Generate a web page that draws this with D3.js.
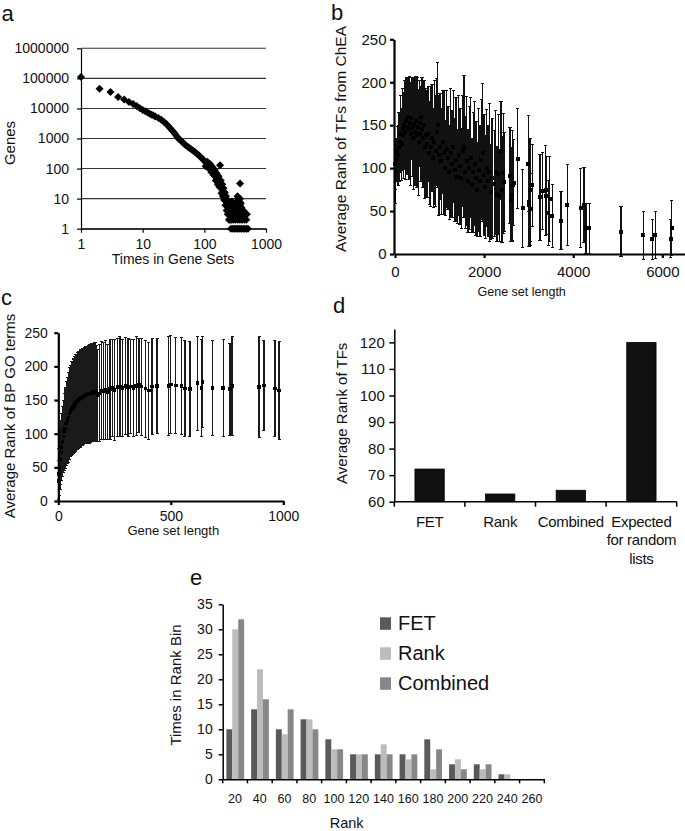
<!DOCTYPE html>
<html>
<head>
<meta charset="utf-8">
<script src="https://d3js.org/d3.v7.min.js"></script>
<style>
  body { margin: 0; background: #fff; }
  svg { display: block; font-family: "Liberation Sans", Arial, sans-serif; }
</style>
</head>
<body>
<div id="fig"></div>
<script>
// ---- panel a: genes vs times in gene sets (log-log scatter) ----
const aTimes = [
  1, 2, 3, 4, 5, 6, 7, 8, 9, 10, 11, 12, 13, 14, 15, 16, 18, 20, 22, 24, 26, 28, 30, 32, 34, 36, 38, 41, 44, 47,
  50, 54, 58, 62, 66, 71, 76, 81, 86, 92, 98, 104, 110, 117, 124, 131, 139, 147, 155, 163, 171, 180, 189, 198, 207, 217, 227, 237, 247,
  105, 112, 118, 125, 130, 136, 142, 148, 153, 158, 165, 170, 175, 180, 185, 190, 195, 200, 205, 210, 215, 220, 225, 230, 235, 240, 245, 250, 255, 260, 265, 270, 275, 280, 285,
  270, 290, 310, 330, 350, 375, 400, 425, 450, 480, 510,
  260, 280, 300, 320, 345, 370, 395, 420, 450, 480,
  290, 315, 340, 365, 390, 420, 455, 490,
  300, 330, 360, 390, 430,
  310, 340, 370, 400,
  320, 350, 380,
  330, 360, 390,
  340, 370,
  350, 380,
  345, 380
];
const aGenes = [
  110000, 45000, 35000, 24000, 20000, 16500, 14000, 12000, 10200, 8800, 8000, 7300, 6700, 6200, 5800, 5400, 4800, 4200, 3600, 3100, 2600, 2200, 1850, 1600, 1350, 1150, 1000, 870, 760, 670,
  600, 530, 470, 430, 390, 350, 310, 275, 245, 215, 190, 165, 145, 125, 108, 92, 78, 66, 55, 45, 36, 29, 23, 18, 14, 11, 8, 6, 5,
  120, 170, 100, 140, 75, 110, 60, 90, 40, 70, 30, 55, 25, 130, 40, 15, 30, 12, 22, 9, 16, 6, 12, 4, 9, 3, 7, 2, 6, 3, 5, 2, 4, 8, 3,
  1, 1, 1, 1, 1, 1, 1, 1, 1, 1, 1,
  2, 2, 2, 2, 2, 2, 2, 2, 2, 2,
  3, 3, 3, 3, 3, 3, 3, 3,
  4, 4, 4, 4, 4,
  5, 5, 5, 5,
  6, 6, 6,
  7, 7, 7,
  8, 8,
  10, 10,
  12, 32
];
const aXTicks = [1, 10, 100, 1000];
const aYTicks = [1, 10, 100, 1000, 10000, 100000, 1000000];

// ---- panel b: average rank of TFs from ChEA vs gene set length ----
const bLen = [
  10, 15, 30, 50, 70, 90, 110, 130, 150, 170, 190, 210, 230, 250, 270, 290, 310, 330, 350, 370, 390, 410, 430, 450, 470, 490, 510, 530, 550, 570, 590, 610, 630, 650, 670, 690,
  720, 745, 770, 800, 830, 860, 885, 910, 935, 958, 985, 1010, 1040, 1070, 1100, 1130, 1160, 1190, 1220, 1250, 1280, 1310, 1340, 1370, 1400, 1430, 1460, 1490, 1520, 1549,
  1580, 1610, 1640, 1670, 1700, 1730, 1760, 1790, 1820, 1850, 1880, 1910, 1940, 1968, 2000, 2030, 2060, 2090, 2120, 2150, 2180,
  2230, 2260, 2290, 2320, 2340, 2379, 2400, 2432, 2447, 2581, 2597, 2630, 2641, 2660, 2753, 2866, 2993, 3008, 3015, 3030, 3045, 3082,
  3255, 3315, 3380, 3400, 3442, 3472, 3532, 3726, 3868, 4168, 4243, 4287, 4362, 5073, 5574, 5776, 5843, 6189, 6210
];
const bMean = [
  105, 95, 110, 120, 115, 125, 130, 140, 128, 145, 138, 150, 142, 155, 148, 160, 145, 152, 140, 158, 147, 135, 150, 142, 155, 138, 148, 130, 152, 140, 160, 145, 135, 150, 125, 138,
  128, 140, 118, 125, 135, 112, 130, 120, 142, 150, 115, 125, 108, 130, 118, 100, 122, 112, 95, 118, 105, 125, 98, 110, 90, 115, 102, 88, 120, 125,
  95, 108, 85, 100, 112, 80, 95, 105, 88, 75, 98, 85, 110, 118, 92, 78, 100, 85, 95, 72, 88,
  82, 95, 70, 93, 67, 120, 75, 94, 84, 91, 63, 69, 80, 83, 111, 53, 105, 57, 60, 74, 52, 80,
  66, 73, 74, 68, 48, 64, 44, 39, 57, 53, 57, 30, 30, 26, 22, 17, 22, 18, 30
];
const bSd = [
  30, 36, 25, 28, 35, 40, 35, 45, 42, 48, 50, 52, 55, 50, 56, 45, 58, 55, 60, 48, 57, 60, 55, 62, 52, 60, 58, 62, 50, 55, 45, 60, 58, 52, 60, 55,
  62, 55, 60, 70, 62, 58, 72, 65, 62, 73, 70, 62, 62, 60, 72, 55, 68, 60, 55, 75, 62, 65, 60, 72, 55, 70, 68, 58, 65, 83,
  65, 75, 60, 72, 70, 55, 70, 72, 66, 55, 72, 65, 70, 80, 70, 60, 68, 65, 80, 55, 70,
  62, 72, 55, 70, 53, 57, 62, 70, 58, 56, 48, 55, 64, 50, 58, 45, 56, 48, 50, 60, 42, 48,
  50, 45, 52, 45, 38, 50, 37, 34, 47, 46, 44, 29, 29, 29, 28, 23, 27, 22, 32
];
const bXTicks = [0, 2000, 4000, 6000];
const bYTicks = [0, 50, 100, 150, 200, 250];

// ---- panel c: average rank of BP GO terms vs gene set length ----
const cLen = [
  1, 3, 5, 8, 11, 14, 18, 22, 26, 30, 35, 40, 45, 50, 55, 60, 63, 66, 69, 72, 75, 78, 81, 84, 87, 90, 94, 97, 100, 104, 107, 111, 114,
  118, 121, 125, 129, 133, 137, 141, 145, 149, 153, 157, 161, 165, 169,
  174, 183, 192, 201, 210, 220, 230, 240, 250, 262, 274, 286, 298, 310, 322, 334, 346, 358, 370,
  388, 402, 417, 439, 489, 500, 522, 548, 563, 585, 618, 637, 641, 686, 733, 763, 772, 892, 914, 963, 981
];
const cMean = [
  30, 40, 50, 62, 72, 80, 88, 96, 103, 108, 115, 120, 124, 130, 134, 137, 138, 140, 141, 143, 145, 146, 147, 148, 149, 150, 151, 152, 153, 154, 154, 155, 156,
  157, 157, 158, 158, 159, 159, 160, 160, 161, 161, 162, 162, 163, 160,
  157, 160, 164, 163, 165, 162, 166, 168, 165, 169, 170, 168, 171, 169, 170, 168, 171, 172, 170,
  167, 164, 170, 171, 171, 173, 171.5, 171, 167, 166.5, 175, 168, 177, 168, 168, 166, 171, 169.5, 171.5, 167, 164.5
];
const cSd = [
  30, 38, 42, 45, 48, 50, 52, 54, 57, 60, 63, 64, 67, 68, 68, 70, 69, 70, 71, 71, 72, 72, 71, 72, 72, 72, 71, 72, 72, 71, 72, 71, 71,
  71, 72, 72, 71, 72, 73, 73, 72, 73, 72, 72, 73, 73, 71,
  68, 72, 73, 72, 73, 70, 74, 72, 75, 73, 74, 72, 72, 73, 70, 72, 73, 70, 72,
  72, 72, 71, 70, 73, 73, 71, 72, 71, 71, 70, 72, 68, 70, 72, 68, 73, 75, 67, 71, 73
];
const cXTicks = [0, 500, 1000];
const cYTicks = [0, 50, 100, 150, 200, 250];

// ---- panel d: average rank of TFs per method ----
const dCategories = [['FET'], ['Rank'], ['Combined'], ['Expected', 'for random', 'lists']];
const dValues = [72.3, 62.9, 64.3, 120];
const dYTicks = [60, 70, 80, 90, 100, 110, 120];

// ---- panel e: times in rank bin ----
const eBins = ['20', '40', '60', '80', '100', '120', '140', '160', '180', '200', '220', '240', '260'];
const eSeries = ['FET', 'Rank', 'Combined'];
const eFET = [10, 14, 10, 12, 8, 5, 5, 5, 8, 3, 3, 1, 0];
const eRank = [30, 22, 9, 12, 6, 5, 7, 4, 2, 4, 2, 1, 0];
const eCombined = [32, 16, 14, 10, 6, 5, 5, 5, 6, 2, 3, 0, 0];
const eColors = ['#5a5a5a', '#bcbcbc', '#878787'];
const eYTicks = [0, 5, 10, 15, 20, 25, 30, 35];

const svg = d3.select('#fig').append('svg')
  .attr('width', 685)
  .attr('height', 831);

// helpers
function panelLabel(t, x, y) {
  svg.append('text').attr('x', x).attr('y', y).style('font-size', '22px').attr('fill', '#111').text(t);
}
function yTitle(t, x, y, size) {
  svg.append('text')
    .attr('transform', `translate(${x},${y}) rotate(-90)`)
    .attr('text-anchor', 'middle')
    .style('font-size', size + 'px')
    .attr('fill', '#111')
    .text(t);
}
function xTitle(t, x, y, size) {
  svg.append('text').attr('x', x).attr('y', y)
    .attr('text-anchor', 'middle')
    .style('font-size', size + 'px')
    .attr('fill', '#111')
    .text(t);
}
function styleAxis(g, lw, fs) {
  g.attr('font-family', null).attr('font-size', null);
  g.select('.domain').attr('stroke', '#000').attr('stroke-width', lw);
  g.selectAll('.tick line').attr('stroke', '#000').attr('stroke-width', lw);
  g.selectAll('.tick text').style('font-size', fs + 'px').attr('fill', '#111');
}
// vertical error bars (mean +/- sd) with caps and square markers
function errorBars(xs, ys, lens, means, sds, lw, cap, sq, color) {
  const idx = d3.range(lens.length);
  const g = svg.append('g').attr('shape-rendering', 'crispEdges');
  g.selectAll('.bar').data(idx).join('line')
    .attr('class', 'bar')
    .attr('x1', i => xs(lens[i])).attr('x2', i => xs(lens[i]))
    .attr('y1', i => ys(means[i] - sds[i])).attr('y2', i => ys(means[i] + sds[i]))
    .attr('stroke', color).attr('stroke-width', lw);
  g.selectAll('.capTop').data(idx).join('line')
    .attr('class', 'capTop')
    .attr('x1', i => xs(lens[i]) - cap).attr('x2', i => xs(lens[i]) + cap)
    .attr('y1', i => ys(means[i] + sds[i])).attr('y2', i => ys(means[i] + sds[i]))
    .attr('stroke', color).attr('stroke-width', 1);
  g.selectAll('.capBot').data(idx).join('line')
    .attr('class', 'capBot')
    .attr('x1', i => xs(lens[i]) - cap).attr('x2', i => xs(lens[i]) + cap)
    .attr('y1', i => ys(means[i] - sds[i])).attr('y2', i => ys(means[i] - sds[i]))
    .attr('stroke', color).attr('stroke-width', 1);
  g.selectAll('.pt').data(idx).join('rect')
    .attr('class', 'pt')
    .attr('x', i => xs(lens[i]) - sq / 2)
    .attr('y', i => ys(means[i]) - sq / 2)
    .attr('width', sq).attr('height', sq)
    .attr('fill', '#000');
}

// ================= panel a =================
const xA = d3.scaleLog().domain([1, 1000]).range([81, 266]);
const yA = d3.scaleLog().domain([1, 1e6]).range([228.7, 48.3]);

svg.append('g').selectAll('line').data(aYTicks).join('line')
  .attr('x1', 81).attr('x2', 266)
  .attr('y1', d => yA(d)).attr('y2', d => yA(d))
  .attr('stroke', '#333').attr('stroke-width', 1.1);

let gAy = svg.append('g').attr('transform', 'translate(81,0)')
  .call(d3.axisLeft(yA).tickValues(aYTicks).tickFormat(d3.format('d')).tickSize(4).tickSizeOuter(0).tickPadding(8));
styleAxis(gAy, 1.2, 14);
let gAx = svg.append('g').attr('transform', 'translate(0,228.7)')
  .call(d3.axisBottom(xA).tickValues(aXTicks).tickFormat(d3.format('d')).tickSize(4).tickSizeOuter(0).tickPadding(6));
styleAxis(gAx, 1.2, 14);

svg.append('g').selectAll('path').data(d3.range(aTimes.length)).join('path')
  .attr('d', 'M0,-4L4,0L0,4L-4,0Z')
  .attr('transform', i => `translate(${xA(aTimes[i])},${yA(aGenes[i])})`)
  .attr('fill', '#000');

panelLabel('a', 1.5, 20.5);
yTitle('Genes', 14.5, 143, 15);
xTitle('Times in Gene Sets', 173, 264, 14);

// ================= panel b =================
const xB = d3.scaleLinear().domain([0, 6500]).range([395, 684.6]);
const yB = d3.scaleLinear().domain([0, 250]).range([254, 39.3]);

errorBars(xB, yB, bLen, bMean, bSd, 1.4, 1.6, 4, '#111');

let gBy = svg.append('g').attr('transform', 'translate(394,0)')
  .call(d3.axisLeft(yB).tickValues(bYTicks).tickSize(4).tickSizeOuter(0).tickPadding(3.5));
styleAxis(gBy, 2.2, 15);
let gBx = svg.append('g').attr('transform', 'translate(0,254)')
  .call(d3.axisBottom(xB).tickValues(bXTicks).tickSize(4).tickSizeOuter(0).tickPadding(8).tickFormat(d3.format('d')));
styleAxis(gBx, 2.2, 15);

panelLabel('b', 331, 20);
yTitle('Average Rank of TFs from ChEA', 346, 139, 15.5);
xTitle('Gene set length', 521.7, 296, 12.5);

// ================= panel c =================
const xC = d3.scaleLinear().domain([0, 1000]).range([58.3, 283.3]);
const yC = d3.scaleLinear().domain([0, 250]).range([501, 332.7]);

errorBars(xC, yC, cLen, cMean, cSd, 1.3, 1.5, 3.5, '#1a1a1a');

let gCy = svg.append('g').attr('transform', 'translate(58.3,0)')
  .call(d3.axisLeft(yC).tickValues(cYTicks).tickSize(4).tickSizeOuter(0).tickPadding(6.5));
styleAxis(gCy, 2.2, 14);
let gCx = svg.append('g').attr('transform', 'translate(0,501)')
  .call(d3.axisBottom(xC).tickValues(cXTicks).tickSize(4).tickSizeOuter(0).tickPadding(6).tickFormat(d3.format('d')));
styleAxis(gCx, 2.2, 14);

panelLabel('c', 1, 305);
yTitle('Average Rank of BP GO terms', 14.5, 416, 15);
xTitle('Gene set length', 173.3, 535, 13);

// ================= panel d =================
const dIdx = d3.range(dValues.length);
const xD = d3.scaleBand().domain(dIdx).range([394.3, 676.7]).paddingInner(0.585).paddingOuter(0.2925);
const xDslot = d3.scaleBand().domain(dIdx).range([394.3, 676.7]);
const yD = d3.scaleLinear().domain([60, 125]).range([501.7, 329.1]);

svg.append('g').selectAll('rect').data(dIdx).join('rect')
  .attr('x', i => xD(i))
  .attr('y', i => yD(dValues[i]))
  .attr('width', xD.bandwidth())
  .attr('height', i => yD(60) - yD(dValues[i]))
  .attr('fill', '#111')
  .attr('stroke', '#000')
  .attr('stroke-width', 0.8);

let gDy = svg.append('g').attr('transform', 'translate(394.3,0)')
  .call(d3.axisLeft(yD).tickValues(dYTicks).tickSize(5).tickSizeOuter(0).tickPadding(4.5));
styleAxis(gDy, 1.5, 15);
svg.append('line')
  .attr('x1', 394.3).attr('x2', 676.7)
  .attr('y1', yD(60)).attr('y2', yD(60))
  .attr('stroke', '#000').attr('stroke-width', 1.5);
svg.append('g').selectAll('line').data(dIdx.concat([dIdx.length])).join('line')
  .attr('x1', i => i < dIdx.length ? xDslot(i) : xDslot.range()[1])
  .attr('x2', i => i < dIdx.length ? xDslot(i) : xDslot.range()[1])
  .attr('y1', yD(60)).attr('y2', yD(60) + 5)
  .attr('stroke', '#000').attr('stroke-width', 1.5);
const dLab = svg.append('g').selectAll('text').data(dIdx).join('text')
  .attr('x', i => xDslot(i) + xDslot.bandwidth() / 2)
  .attr('y', 527)
  .attr('text-anchor', 'middle')
  .style('font-size', '15px')
  .style('letter-spacing', '-0.3px')
  .attr('fill', '#111');
dLab.selectAll('tspan').data(i => dCategories[i].map(t => ({ t, x: xDslot(i) + xDslot.bandwidth() / 2 }))).join('tspan')
  .attr('x', d => d.x)
  .attr('dy', (d, j) => j === 0 ? 0 : 18.4)
  .text(d => d.t);

panelLabel('d', 333, 313);
yTitle('Average Rank of TFs', 347.4, 413.3, 15);

// ================= panel e =================
const xE = d3.scaleBand().domain(eBins).range([222.7, 544.3]);
const xE1 = d3.scaleBand().domain(eSeries).range([3.7, xE.bandwidth() - 3.3]);
const yE = d3.scaleLinear().domain([0, 35]).range([779.3, 604.3]);
const eData = [eFET, eRank, eCombined];

eSeries.forEach((s, k) => {
  svg.append('g').selectAll('rect').data(eBins).join('rect')
    .attr('x', (d, i) => xE(d) + xE1(s))
    .attr('y', (d, i) => yE(eData[k][i]))
    .attr('width', xE1.bandwidth())
    .attr('height', (d, i) => yE(0) - yE(eData[k][i]))
    .attr('fill', eColors[k]);
});

let gEy = svg.append('g').attr('transform', 'translate(222.7,0)')
  .call(d3.axisLeft(yE).tickValues(eYTicks).tickSize(4).tickSizeOuter(0).tickPadding(6));
styleAxis(gEy, 1.5, 14);
let gEx = svg.append('g').attr('transform', 'translate(0,779.3)')
  .call(d3.axisBottom(xE).tickSize(0).tickPadding(15));
styleAxis(gEx, 1.5, 12.5);
svg.append('g').selectAll('line').data(eBins.concat(['end'])).join('line')
  .attr('x1', d => d === 'end' ? xE.range()[1] : xE(d))
  .attr('x2', d => d === 'end' ? xE.range()[1] : xE(d))
  .attr('y1', yE(0)).attr('y2', yE(0) + 4)
  .attr('stroke', '#000').attr('stroke-width', 1.5);

// legend
const eLeg = svg.append('g');
eLeg.selectAll('rect').data(eSeries).join('rect')
  .attr('x', 380).attr('y', (d, i) => 617.3 + i * 30)
  .attr('width', 11).attr('height', 12.5)
  .attr('fill', (d, i) => eColors[i]);
eLeg.selectAll('text').data(eSeries).join('text')
  .attr('x', 398).attr('y', (d, i) => 630 + i * 30)
  .style('font-size', '20px')
  .attr('fill', '#111')
  .text(d => d);

panelLabel('e', 190, 585);
yTitle('Times in Rank Bin', 180.7, 685, 15);
xTitle('Rank', 346.7, 828, 14.5);
</script>
</body>
</html>
